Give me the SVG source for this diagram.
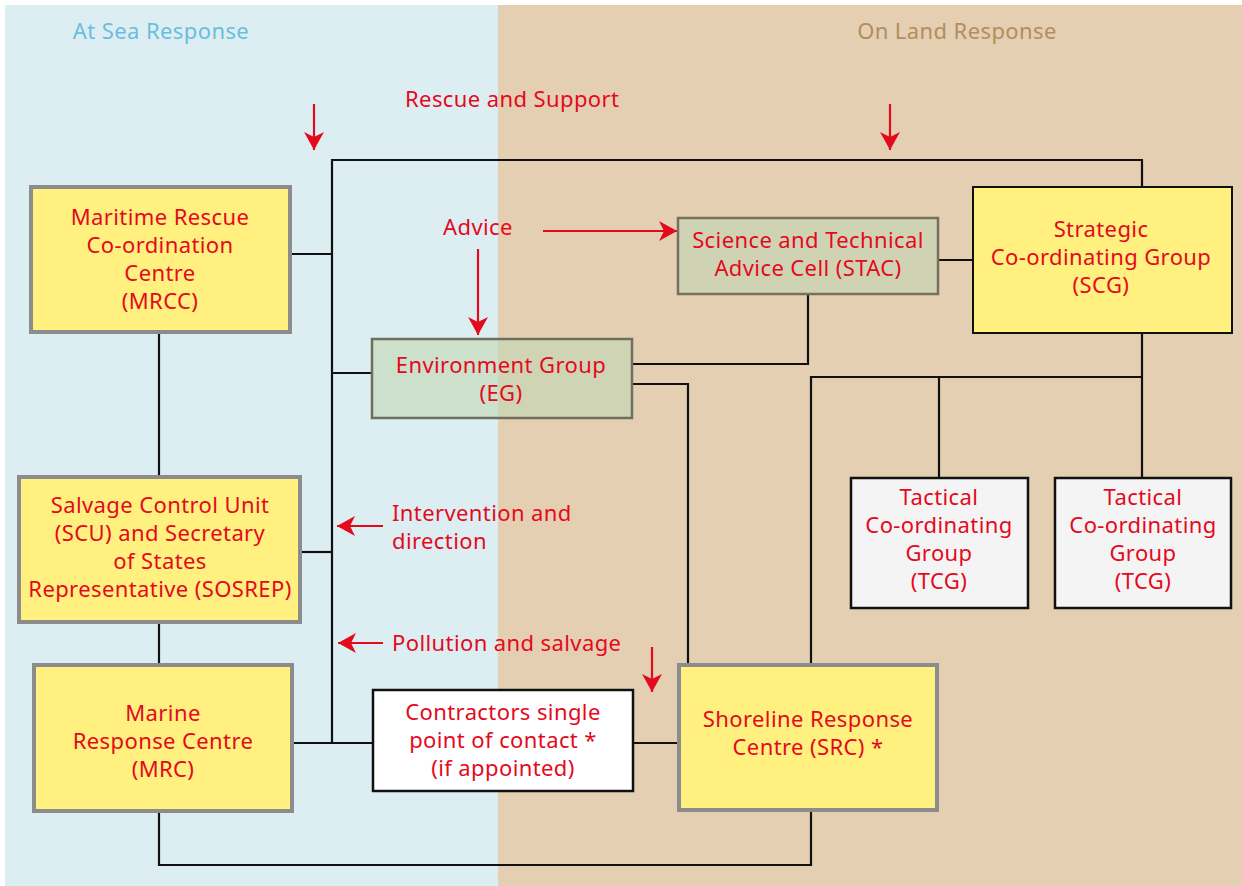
<svg xmlns="http://www.w3.org/2000/svg" width="1242" height="886" viewBox="0 0 1242 886">
  <style>
    .lbl { font-family: "Noto Sans", "Liberation Sans", sans-serif; font-size: 22px; letter-spacing: 0.4px; fill: #E30A1E; text-anchor: middle; }
    .note { font-family: "Noto Sans", "Liberation Sans", sans-serif; font-size: 22px; letter-spacing: 0.4px; fill: #E30A1E; }
    .head { font-family: "Noto Sans", "Liberation Sans", sans-serif; font-size: 22px; letter-spacing: 0.4px; text-anchor: middle; }
    .yellow { fill: #FFF080; stroke: #8C8C8C; stroke-width: 4; }
    .yellowk { fill: #FFF080; stroke: #111; stroke-width: 2; }
    .grey { fill: #F4F4F4; stroke: #111; stroke-width: 2.5; }
    .white { fill: #FFFFFF; stroke: #111; stroke-width: 2.5; }
    .green { fill: #C2D6B4; fill-opacity: 0.62; stroke: #6F6F60; stroke-width: 2.5; }
    .stac { fill: #D0D3B3; stroke: #767062; stroke-width: 2.5; }
    .wire { fill: none; stroke: #111; stroke-width: 2.2; }
    .flow { fill: none; stroke: #E30A1E; stroke-width: 2.2; }
  </style>
  <defs>
    <marker id="head" markerUnits="userSpaceOnUse" markerWidth="20" markerHeight="20" viewBox="0 0 20 20" refX="18" refY="10" orient="auto">
      <path d="M0,0 L18,10 L0,20 L5,10 Z" fill="#E30A1E"/>
    </marker>
  </defs>

  <!-- panels -->
  <rect x="0" y="0" width="1242" height="886" fill="#FFFFFF"/>
  <rect x="5" y="5" width="493" height="881" fill="#DDEEF2"/>
  <rect x="498" y="5" width="744" height="881" fill="#E5CFB2"/>
  <text class="head" x="161" y="39" fill="#6BBDE0">At Sea Response</text>
  <text class="head" x="957" y="39" fill="#B38D5E">On Land Response</text>

  <!-- connectors -->
  <g id="connectors">
    <polyline class="wire" points="332,743 332,160 1142,160 1142,187"/>
    <line class="wire" x1="292" y1="254" x2="332" y2="254"/>
    <line class="wire" x1="302" y1="552" x2="332" y2="552"/>
    <line class="wire" x1="332" y1="373" x2="372" y2="373"/>
    <line class="wire" x1="294" y1="743" x2="373" y2="743"/>
    <line class="wire" x1="633" y1="743" x2="679" y2="743"/>
    <line class="wire" x1="159" y1="334" x2="159" y2="477"/>
    <line class="wire" x1="159" y1="622" x2="159" y2="665"/>
    <polyline class="wire" points="159,811 159,865 811,865 811,810"/>
    <polyline class="wire" points="632,364 808,364 808,294"/>
    <polyline class="wire" points="632,384 688,384 688,665"/>
    <line class="wire" x1="938" y1="260" x2="973" y2="260"/>
    <polyline class="wire" points="811,665 811,377 1142,377"/>
    <line class="wire" x1="1142" y1="333" x2="1142" y2="478"/>
    <line class="wire" x1="939" y1="377" x2="939" y2="478"/>

    <!-- red flow arrows -->
    <line class="flow" x1="314" y1="104" x2="314" y2="150" marker-end="url(#head)"/>
    <line class="flow" x1="890" y1="104" x2="890" y2="150" marker-end="url(#head)"/>
    <line class="flow" x1="543" y1="231" x2="677" y2="231" marker-end="url(#head)"/>
    <line class="flow" x1="478" y1="249" x2="478" y2="335" marker-end="url(#head)"/>
    <line class="flow" x1="383" y1="526" x2="337" y2="526" marker-end="url(#head)"/>
    <line class="flow" x1="383" y1="643" x2="338" y2="643" marker-end="url(#head)"/>
    <line class="flow" x1="652" y1="647" x2="652" y2="692" marker-end="url(#head)"/>
  </g>

  <!-- flow labels -->
  <text class="note" x="405" y="107">Rescue and Support</text>
  <text class="note" x="443" y="235">Advice</text>
  <text class="note" x="392" y="521">Intervention and</text>
  <text class="note" x="392" y="549">direction</text>
  <text class="note" x="392" y="651">Pollution and salvage</text>

  <g id="mrcc">
    <rect class="yellow" x="31" y="187" width="259" height="145"/>
    <text class="lbl" x="160" y="225">Maritime Rescue</text>
    <text class="lbl" x="160" y="253">Co-ordination</text>
    <text class="lbl" x="160" y="281">Centre</text>
    <text class="lbl" x="160" y="309">(MRCC)</text>
  </g>

  <g id="scu">
    <rect class="yellow" x="19" y="477" width="281" height="145"/>
    <text class="lbl" x="160" y="513">Salvage Control Unit</text>
    <text class="lbl" x="160" y="541">(SCU) and Secretary</text>
    <text class="lbl" x="160" y="569">of States</text>
    <text class="lbl" x="160" y="597">Representative (SOSREP)</text>
  </g>

  <g id="mrc">
    <rect class="yellow" x="34" y="665" width="258" height="146"/>
    <text class="lbl" x="163" y="721">Marine</text>
    <text class="lbl" x="163" y="749">Response Centre</text>
    <text class="lbl" x="163" y="777">(MRC)</text>
  </g>

  <g id="eg">
    <rect class="green" x="372" y="339" width="260" height="79"/>
    <text class="lbl" x="501" y="373">Environment Group</text>
    <text class="lbl" x="501" y="401">(EG)</text>
  </g>

  <g id="stac">
    <rect class="stac" x="678" y="218" width="260" height="76"/>
    <text class="lbl" x="808" y="248">Science and Technical</text>
    <text class="lbl" x="808" y="276">Advice Cell (STAC)</text>
  </g>

  <g id="scg">
    <rect class="yellowk" x="973" y="187" width="259" height="146"/>
    <text class="lbl" x="1101" y="237">Strategic</text>
    <text class="lbl" x="1101" y="265">Co-ordinating Group</text>
    <text class="lbl" x="1101" y="293">(SCG)</text>
  </g>

  <g id="tcg1">
    <rect class="grey" x="851" y="478" width="177" height="130"/>
    <text class="lbl" x="939" y="505">Tactical</text>
    <text class="lbl" x="939" y="533">Co-ordinating</text>
    <text class="lbl" x="939" y="561">Group</text>
    <text class="lbl" x="939" y="589">(TCG)</text>
  </g>

  <g id="tcg2">
    <rect class="grey" x="1055" y="478" width="176" height="130"/>
    <text class="lbl" x="1143" y="505">Tactical</text>
    <text class="lbl" x="1143" y="533">Co-ordinating</text>
    <text class="lbl" x="1143" y="561">Group</text>
    <text class="lbl" x="1143" y="589">(TCG)</text>
  </g>

  <g id="contractors">
    <rect class="white" x="373" y="690" width="260" height="101"/>
    <text class="lbl" x="503" y="720">Contractors single</text>
    <text class="lbl" x="503" y="748">point of contact *</text>
    <text class="lbl" x="503" y="776">(if appointed)</text>
  </g>

  <g id="src">
    <rect class="yellow" x="679" y="665" width="258" height="145"/>
    <text class="lbl" x="808" y="727">Shoreline Response</text>
    <text class="lbl" x="808" y="755">Centre (SRC) *</text>
  </g>
</svg>
